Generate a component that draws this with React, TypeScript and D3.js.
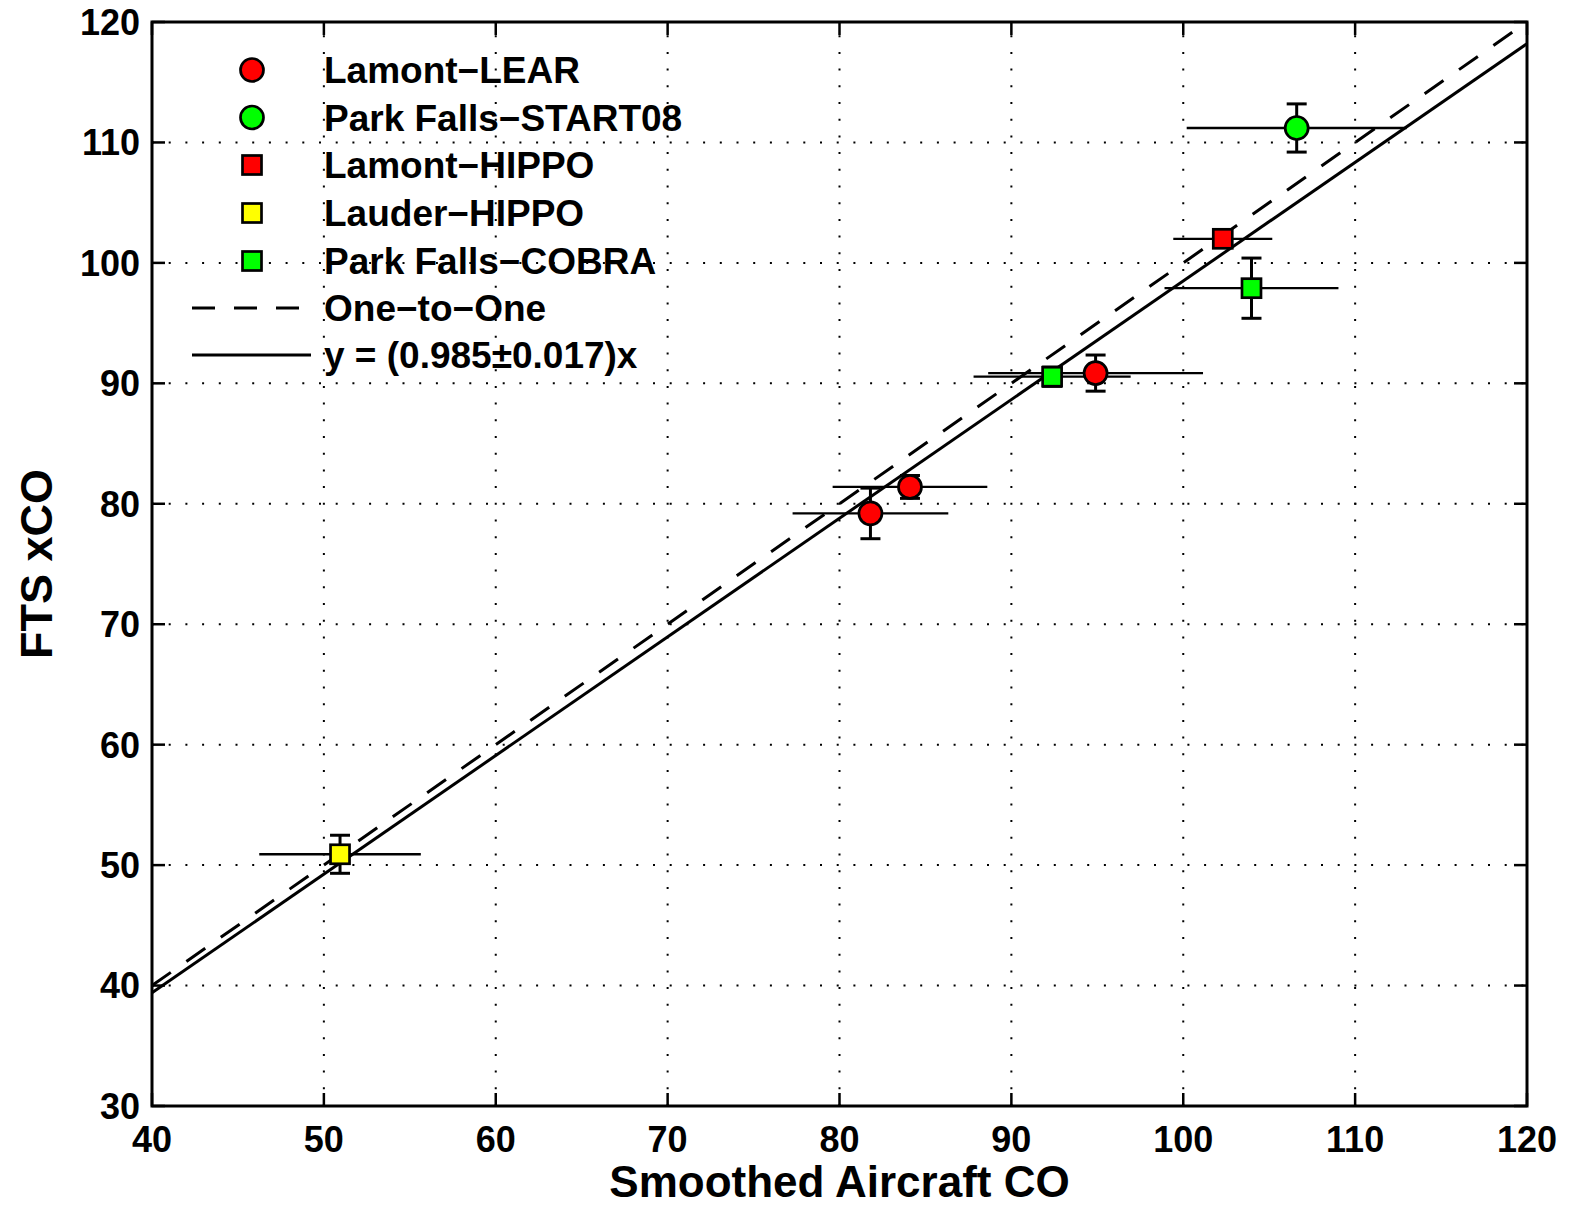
import * as d3 from 'd3';
import React from 'react';

// series values
const learX = [81.8, 84.1, 94.9];
const learY = [79.2, 81.4, 90.85];
const learXErr = [4.53, 4.5, 6.25];
const learYErr = [2.1, 0.95, 1.5];

const start08X = [106.6];
const start08Y = [111.2];
const start08XErr = [6.4];
const start08YErr = [2.0];

const lamontHippoX = [102.3];
const lamontHippoY = [102.0];
const lamontHippoXErr = [2.88];
const lamontHippoYErr = [0.3];

const lauderHippoX = [50.94];
const lauderHippoY = [50.9];
const lauderHippoXErr = [4.7];
const lauderHippoYErr = [1.58];

const cobraX = [103.97, 92.37];
const cobraY = [97.9, 90.55];
const cobraXErr = [5.06, 4.57];
const cobraYErr = [2.5, 0.8];

const xTicks = [40, 50, 60, 70, 80, 90, 100, 110, 120];
const yTicks = [30, 40, 50, 60, 70, 80, 90, 100, 110, 120];
const slope = 0.985;
const fitLabel = 'y = (0.985\u00b10.017)x';

const series = [
    { name: 'Lamont\u2212LEAR', shape: 'circle', color: '#ff0000', x: learX, y: learY, xe: learXErr, ye: learYErr },
    { name: 'Park Falls\u2212START08', shape: 'circle', color: '#00ff00', x: start08X, y: start08Y, xe: start08XErr, ye: start08YErr },
    { name: 'Lamont\u2212HIPPO', shape: 'square', color: '#ff0000', x: lamontHippoX, y: lamontHippoY, xe: lamontHippoXErr, ye: lamontHippoYErr },
    { name: 'Lauder\u2212HIPPO', shape: 'square', color: '#ffff00', x: lauderHippoX, y: lauderHippoY, xe: lauderHippoXErr, ye: lauderHippoYErr },
    { name: 'Park Falls\u2212COBRA', shape: 'square', color: '#00ff00', x: cobraX, y: cobraY, xe: cobraXErr, ye: cobraYErr },
];

const W = 1571, H = 1208;
const left = 152, right = 1527, top = 22, bottom = 1106;
const font = '"Liberation Sans", Arial, Helvetica, sans-serif';

function Marker({ shape, color, cx, cy }) {
    if (shape === 'circle')
        return <circle cx={cx} cy={cy} r={11.5} fill={color} stroke="#000" strokeWidth={2.7} />;
    return <rect x={cx - 9.5} y={cy - 9.5} width={19} height={19} fill={color} stroke="#000" strokeWidth={2.7} />;
}

export default function App() {
    const x = d3.scaleLinear().domain([40, 120]).range([left, right]);
    const y = d3.scaleLinear().domain([30, 120]).range([bottom, top]);
    const fitLine = d3.line<number>().x(d => x(d)).y(d => y(slope * d));
    const oneLine = d3.line<number>().x(d => x(d)).y(d => y(d));
    const legendRows = [70, 117.5, 165, 213, 261, 308, 355];

    return (
        <svg width={W} height={H} style={{ position: 'absolute', left: 0, top: 0, background: '#fff' }}
            fontFamily={font} fontWeight="bold">
            <rect width={W} height={H} fill="#fff" />
            {/* grid */}
            <g stroke="#000" strokeWidth={2} strokeDasharray="2 14.7">
                {xTicks.slice(1, -1).map(t => (
                    <line key={'gx' + t} x1={x(t)} x2={x(t)} y1={bottom} y2={top} />
                ))}
                {yTicks.slice(1, -1).map(t => (
                    <line key={'gy' + t} x1={left} x2={right} y1={y(t)} y2={y(t)} />
                ))}
            </g>
            {/* ticks */}
            <g stroke="#000" strokeWidth={2.5}>
                {xTicks.map(t => (
                    <g key={'tx' + t}>
                        <line x1={x(t)} x2={x(t)} y1={bottom} y2={bottom - 13} />
                        <line x1={x(t)} x2={x(t)} y1={top} y2={top + 13} />
                    </g>
                ))}
                {yTicks.map(t => (
                    <g key={'ty' + t}>
                        <line x1={left} x2={left + 13} y1={y(t)} y2={y(t)} />
                        <line x1={right} x2={right - 13} y1={y(t)} y2={y(t)} />
                    </g>
                ))}
            </g>
            {/* fit lines */}
            <path d={oneLine([40, 120])} fill="none" stroke="#000" strokeWidth={3} strokeDasharray="23 19" />
            <path d={fitLine([40, 120])} fill="none" stroke="#000" strokeWidth={3} />
            {/* error bars and markers */}
            {series.map(s => (
                <g key={s.name}>
                    {s.x.map((v, i) => (
                        <g key={i} stroke="#000">
                            <line x1={x(v - s.xe[i])} x2={x(v + s.xe[i])} y1={y(s.y[i])} y2={y(s.y[i])} strokeWidth={2.3} />
                            <line x1={x(v)} x2={x(v)} y1={y(s.y[i] - s.ye[i])} y2={y(s.y[i] + s.ye[i])} strokeWidth={3} />
                            <line x1={x(v) - 10} x2={x(v) + 10} y1={y(s.y[i] - s.ye[i])} y2={y(s.y[i] - s.ye[i])} strokeWidth={3} />
                            <line x1={x(v) - 10} x2={x(v) + 10} y1={y(s.y[i] + s.ye[i])} y2={y(s.y[i] + s.ye[i])} strokeWidth={3} />
                        </g>
                    ))}
                </g>
            ))}
            {series.map(s => (
                <g key={'m' + s.name}>
                    {s.x.map((v, i) => <Marker key={i} shape={s.shape} color={s.color} cx={x(v)} cy={y(s.y[i])} />)}
                </g>
            ))}
            {/* axes box */}
            <rect x={left} y={top} width={right - left} height={bottom - top} fill="none" stroke="#000" strokeWidth={3} />
            {/* tick labels */}
            <g fontSize={36} fill="#000">
                {xTicks.map(t => (
                    <text key={'lx' + t} x={x(t)} y={1152} textAnchor="middle">{t}</text>
                ))}
                {yTicks.map(t => (
                    <text key={'ly' + t} x={140} y={y(t) + 12.9} textAnchor="end">{t}</text>
                ))}
            </g>
            {/* axis titles */}
            <text x={(left + right) / 2} y={1197} textAnchor="middle" fontSize={44}>Smoothed Aircraft CO</text>
            <text transform={`translate(52, ${(top + bottom) / 2}) rotate(-90)`} textAnchor="middle" fontSize={45}>FTS xCO</text>
            {/* legend */}
            <g fontSize={37}>
                {series.map((s, i) => (
                    <g key={'lg' + s.name}>
                        <Marker shape={s.shape} color={s.color} cx={252} cy={legendRows[i]} />
                        <text x={324} y={legendRows[i] + 13.2}>{s.name}</text>
                    </g>
                ))}
                <line x1={192} x2={310} y1={legendRows[5]} y2={legendRows[5]} stroke="#000" strokeWidth={3} strokeDasharray="23 19" />
                <text x={324} y={legendRows[5] + 13.2}>One{'\u2212'}to{'\u2212'}One</text>
                <line x1={192} x2={311} y1={legendRows[6]} y2={legendRows[6]} stroke="#000" strokeWidth={3} />
                <text x={324} y={legendRows[6] + 13.2}>{fitLabel}</text>
            </g>
        </svg>
    );
}
